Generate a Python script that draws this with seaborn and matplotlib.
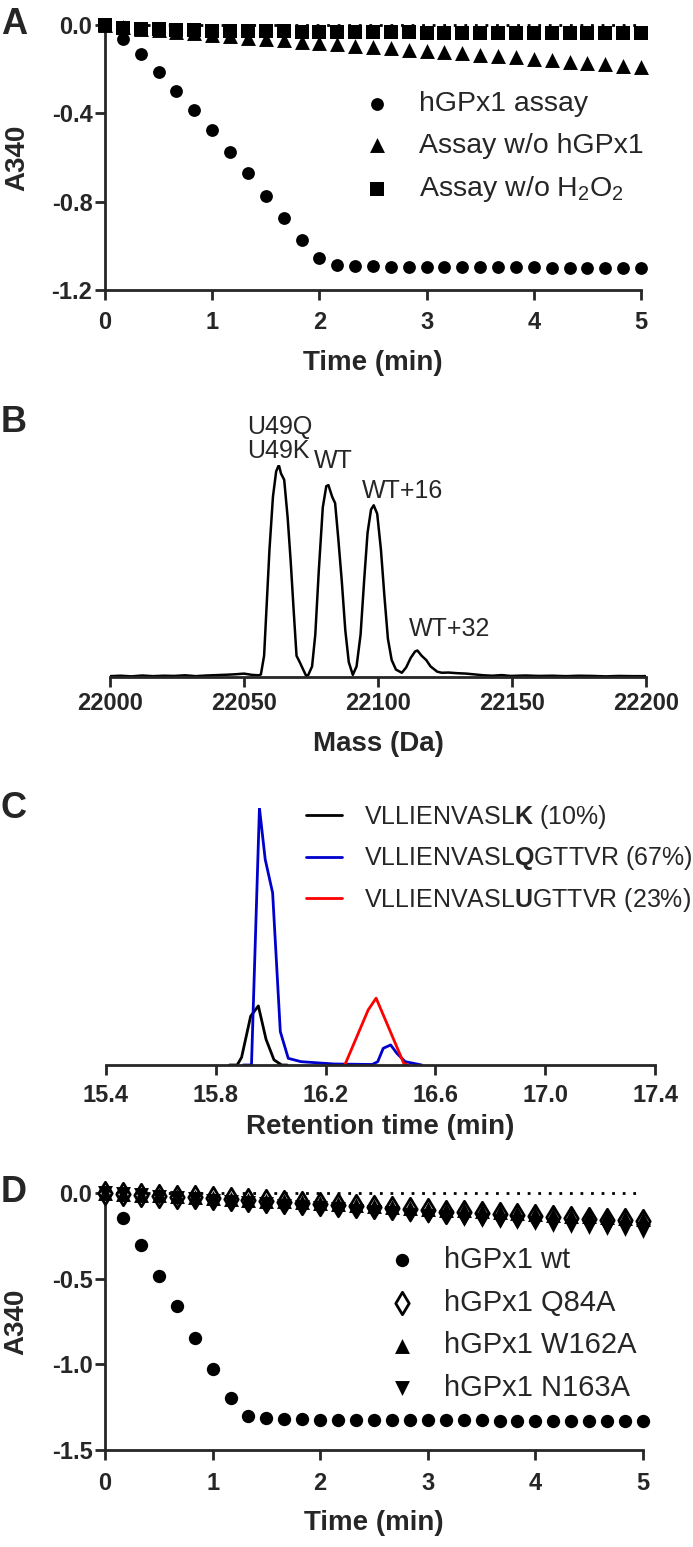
import numpy as np
import matplotlib
matplotlib.use("Agg")
import matplotlib.pyplot as plt
import seaborn as sns
from matplotlib.ticker import StrMethodFormatter

sns.set_style("ticks")
plt.rcParams["font.family"] = ["Liberation Sans", "DejaVu Sans"]
plt.rcParams["mathtext.fontset"] = "custom"
plt.rcParams["mathtext.rm"] = "Liberation Sans"
plt.rcParams["mathtext.bf"] = "Liberation Sans:bold"
plt.rcParams["axes.unicode_minus"] = False

# ---------------- data ----------------
# A: A340 over time (readings every 10 s)
time_a = [0, 1/6, 2/6, 3/6, 4/6, 5/6, 1, 7/6, 8/6, 9/6, 10/6, 11/6, 2, 13/6, 14/6, 15/6,
          16/6, 17/6, 3, 19/6, 20/6, 21/6, 22/6, 23/6, 4, 25/6, 26/6, 27/6, 28/6, 29/6, 5]
assay = [0, -0.062, -0.130, -0.211, -0.298, -0.385, -0.476, -0.574, -0.669, -0.773, -0.873,
         -0.974, -1.057, -1.088, -1.091, -1.093, -1.094, -1.095, -1.096, -1.096, -1.097,
         -1.097, -1.098, -1.098, -1.098, -1.099, -1.099, -1.099, -1.100, -1.100, -1.100]
no_enzyme = [0, -0.008, -0.016, -0.024, -0.031, -0.038, -0.045, -0.051, -0.057, -0.063,
             -0.069, -0.075, -0.081, -0.087, -0.093, -0.099, -0.105, -0.111, -0.117, -0.123,
             -0.129, -0.135, -0.141, -0.147, -0.153, -0.159, -0.166, -0.172, -0.178, -0.184, -0.191]
no_h2o2 = [0, -0.012, -0.016, -0.019, -0.021, -0.023, -0.025, -0.026, -0.027, -0.028, -0.029,
           -0.030, -0.031, -0.031, -0.032, -0.032, -0.033, -0.033, -0.034, -0.034, -0.035,
           -0.035, -0.035, -0.036, -0.036, -0.036, -0.037, -0.037, -0.037, -0.038, -0.038]

# B: deconvoluted mass spectrum
mass = [22000, 22004, 22008, 22012, 22016, 22020, 22024, 22028, 22032, 22036, 22040, 22044,
        22047, 22050, 22053, 22055.5, 22056.3, 22057.5, 22058.3, 22059.5, 22060.8, 22062,
        22063, 22063.8, 22065, 22066.3, 22067.4, 22068.6, 22069.6, 22070.8, 22071.9, 22073.2,
        22074, 22075.4, 22076.6, 22077.9, 22079.4, 22080.7, 22081.5, 22082.9, 22084, 22085.2,
        22086.5, 22087.8, 22089.1, 22090.6, 22092, 22093.5, 22094.8, 22096.1, 22097.4, 22098.4,
        22099.7, 22101.1, 22102.4, 22103.7, 22105.1, 22106.7, 22108.9, 22110.5, 22112.2,
        22113.8, 22114.7, 22116.3, 22118, 22119.6, 22122.1, 22123.8, 22126.3, 22129.6, 22132.9,
        22136.2, 22139.5, 22142.8, 22146.1, 22149.5, 22155, 22160, 22165, 22170, 22175, 22180,
        22185, 22190, 22195, 22200]
intensity = [0.004, 0.006, 0.003, 0.007, 0.004, 0.006, 0.005, 0.008, 0.004, 0.007, 0.009,
             0.011, 0.013, 0.016, 0.010, 0.008, 0.012, 0.10, 0.30, 0.60, 0.85, 0.97, 1.00,
             0.96, 0.93, 0.75, 0.55, 0.30, 0.10, 0.07, 0.04, 0.005, 0.010, 0.05, 0.20, 0.50,
             0.80, 0.90, 0.905, 0.85, 0.82, 0.65, 0.45, 0.22, 0.07, 0.010, 0.05, 0.20, 0.45,
             0.68, 0.79, 0.81, 0.77, 0.60, 0.38, 0.18, 0.08, 0.035, 0.020, 0.045, 0.09, 0.12,
             0.125, 0.10, 0.08, 0.05, 0.025, 0.020, 0.021, 0.018, 0.016, 0.012, 0.008, 0.006,
             0.009, 0.005, 0.007, 0.005, 0.006, 0.004, 0.006, 0.005, 0.003, 0.005, 0.004, 0.004]
peak_labels = ["U49Q\nU49K", "WT", "WT+16", "WT+32"]
peak_label_x = [22051, 22076, 22094, 22111.5]
peak_label_y = [1.01, 0.96, 0.82, 0.17]

# C: extracted ion chromatograms
rt_k = [15.85, 15.878, 15.894, 15.927, 15.955, 15.983, 16.012, 16.04, 16.06]
sig_k = [0, 0, 0.03, 0.19, 0.23, 0.10, 0.02, 0, 0]
rt_q = [15.90, 15.93, 15.959, 15.98, 16.007, 16.035, 16.064, 16.11, 16.23, 16.37, 16.39,
        16.41, 16.437, 16.46, 16.49, 16.55]
sig_q = [0, 0, 1.0, 0.80, 0.67, 0.13, 0.026, 0.013, 0.004, 0.002, 0.013, 0.065, 0.078,
         0.045, 0.013, 0]
rt_u = [16.27, 16.355, 16.384, 16.42, 16.485, 16.50]
sig_u = [0, 0.214, 0.26, 0.17, 0.006, 0]
peptides = ["VLLIENVASL$\\mathbf{K}$ (10%)", "VLLIENVASL$\\mathbf{Q}$GTTVR (67%)",
            "VLLIENVASL$\\mathbf{U}$GTTVR (23%)"]

# D: mutant activity assays
time_d = time_a
wt = [0, -0.144, -0.306, -0.484, -0.660, -0.846, -1.028, -1.195, -1.300, -1.313, -1.318,
      -1.320, -1.322, -1.323, -1.324, -1.325, -1.325, -1.326, -1.326, -1.327, -1.327, -1.327,
      -1.328, -1.328, -1.328, -1.329, -1.329, -1.329, -1.330, -1.330, -1.330]
q84a = [0, -0.005, -0.010, -0.016, -0.021, -0.026, -0.032, -0.037, -0.043, -0.048, -0.054,
        -0.060, -0.066, -0.072, -0.078, -0.084, -0.090, -0.096, -0.102, -0.108, -0.113,
        -0.119, -0.124, -0.130, -0.136, -0.141, -0.146, -0.151, -0.156, -0.160, -0.164]
w162a = [0, -0.004, -0.009, -0.014, -0.019, -0.024, -0.029, -0.034, -0.039, -0.044, -0.049,
         -0.054, -0.059, -0.065, -0.070, -0.075, -0.081, -0.086, -0.092, -0.097, -0.102,
         -0.107, -0.112, -0.117, -0.122, -0.127, -0.132, -0.137, -0.141, -0.145, -0.149]
n163a = [0, -0.007, -0.014, -0.021, -0.029, -0.036, -0.044, -0.051, -0.059, -0.066, -0.074,
         -0.081, -0.089, -0.096, -0.104, -0.111, -0.119, -0.126, -0.134, -0.141, -0.149,
         -0.156, -0.163, -0.170, -0.177, -0.184, -0.191, -0.198, -0.205, -0.212, -0.220]

# ---------------- figure ----------------
W, H = 693, 1547
fig = plt.figure(figsize=(W / 100, H / 100), dpi=100)


def px_rect(left, right, top, bottom):
    return [left / W, 1 - bottom / H, (right - left) / W, (bottom - top) / H]


TICK_FS = 17
LABEL_FS = 20


def style_axis(ax, show_y=True, xpad=8):
    for s in ["top", "right"]:
        ax.spines[s].set_visible(False)
    for s in ["left", "bottom"]:
        ax.spines[s].set_linewidth(2)
    ax.tick_params(axis="x", length=7, width=2, pad=xpad, labelsize=TICK_FS)
    ax.tick_params(axis="y", length=7, width=2, pad=2, labelsize=TICK_FS)
    for lab in ax.get_xticklabels() + ax.get_yticklabels():
        lab.set_fontweight("bold")
    if not show_y:
        ax.spines["left"].set_visible(False)
        ax.set_yticks([])


def panel_letter(letter, y_px):
    fig.text(1 / W, 1 - y_px / H, letter, fontsize=26, fontweight="bold",
             ha="left", va="center")


# ---- A ----
axA = fig.add_axes(px_rect(105, 641, 25, 290))
axA.axhline(0, color="black", lw=2, ls=(0, (1, 2.8)), clip_on=False, zorder=1)
sns.scatterplot(x=time_a, y=assay, marker="o", s=85, color="black", linewidth=0,
                label="hGPx1 assay", ax=axA, clip_on=False, zorder=3)
sns.scatterplot(x=time_a, y=no_enzyme, marker="^", s=115, color="black", linewidth=0,
                label="Assay w/o hGPx1", ax=axA, clip_on=False, zorder=3)
sns.scatterplot(x=time_a, y=no_h2o2, marker="s", s=90, color="black", linewidth=0,
                label="Assay w/o $\\mathregular{H_2O_2}$", ax=axA, clip_on=False, zorder=3)
axA.set_xlim(0, 5)
axA.set_ylim(-1.2, 0)
axA.set_xticks([0, 1, 2, 3, 4, 5])
axA.set_yticks([0, -0.4, -0.8, -1.2])
axA.yaxis.set_major_formatter(StrMethodFormatter("{x:.1f}"))
style_axis(axA)
axA.set_xlabel("Time (min)", fontsize=LABEL_FS, fontweight="bold")
axA.set_ylabel("A340", fontsize=LABEL_FS, fontweight="bold")
axA.xaxis.set_label_coords(0.5, -0.225)
axA.yaxis.set_label_coords(-0.14, 0.5)
axA.legend(frameon=False, loc="upper left", bbox_to_anchor=(363 / W, 1 - 91 / H),
           bbox_transform=fig.transFigure, fontsize=20.5, handlelength=1.0,
           handletextpad=0.95, labelspacing=0.55, borderpad=0, borderaxespad=0)
panel_letter("A", 25)

# ---- B ----
axB = fig.add_axes(px_rect(110, 646, 465, 677))
sns.lineplot(x=mass, y=intensity, color="black", linewidth=1.8, ax=axB, legend=False)
axB.set_xlim(22000, 22200)
axB.set_ylim(0, 1)
axB.set_xticks([22000, 22050, 22100, 22150, 22200])
axB.xaxis.set_major_formatter(StrMethodFormatter("{x:.0f}"))
style_axis(axB, show_y=False, xpad=4)
axB.set_xlabel("Mass (Da)", fontsize=LABEL_FS, fontweight="bold")
axB.set_ylabel("")
axB.xaxis.set_label_coords(0.5, -0.255)
for lab, lx, ly in zip(peak_labels, peak_label_x, peak_label_y):
    axB.text(lx, ly, lab, fontsize=18, ha="left", va="bottom", linespacing=1.0)
panel_letter("B", 423)

# ---- C ----
axC = fig.add_axes(px_rect(106, 655, 808, 1065))
sns.lineplot(x=rt_k, y=sig_k, color="black", linewidth=2, label=peptides[0], ax=axC)
sns.lineplot(x=rt_q, y=sig_q, color="#0000cc", linewidth=2, label=peptides[1], ax=axC)
sns.lineplot(x=rt_u, y=sig_u, color="#ff0000", linewidth=2, label=peptides[2], ax=axC)
axC.set_xlim(15.4, 17.4)
axC.set_ylim(0, 1)
axC.set_xticks([15.4, 15.8, 16.2, 16.6, 17.0, 17.4])
axC.xaxis.set_major_formatter(StrMethodFormatter("{x:.1f}"))
style_axis(axC, show_y=False, xpad=7)
axC.set_xlabel("Retention time (min)", fontsize=LABEL_FS, fontweight="bold")
axC.set_ylabel("")
axC.xaxis.set_label_coords(0.5, -0.19)
axC.legend(frameon=False, loc="upper left", bbox_to_anchor=(306 / W, 1 - 803 / H),
           bbox_transform=fig.transFigure, fontsize=18, handlelength=1.45,
           handletextpad=0.85, labelspacing=0.53, borderpad=0, borderaxespad=0)
panel_letter("C", 808)

# ---- D ----
axD = fig.add_axes(px_rect(105, 643, 1193, 1450))
axD.axhline(0, color="black", lw=2, ls=(0, (1, 2.8)), clip_on=False, zorder=1)
sns.scatterplot(x=time_d, y=wt, marker="o", s=92, color="black", linewidth=0,
                label="hGPx1 wt", ax=axD, clip_on=False, zorder=3)
sns.scatterplot(x=time_d, y=q84a, marker="d", s=130, color="white", edgecolor="black",
                linewidth=2, label="hGPx1 Q84A", ax=axD, clip_on=False, zorder=3)
sns.scatterplot(x=time_d, y=w162a, marker="^", s=115, color="black", linewidth=0,
                label="hGPx1 W162A", ax=axD, clip_on=False, zorder=4)
sns.scatterplot(x=time_d, y=n163a, marker="v", s=115, color="black", linewidth=0,
                label="hGPx1 N163A", ax=axD, clip_on=False, zorder=4)
axD.set_xlim(0, 5)
axD.set_ylim(-1.5, 0)
axD.set_xticks([0, 1, 2, 3, 4, 5])
axD.set_yticks([0, -0.5, -1.0, -1.5])
axD.yaxis.set_major_formatter(StrMethodFormatter("{x:.1f}"))
style_axis(axD, xpad=9)
axD.set_xlabel("Time (min)", fontsize=LABEL_FS, fontweight="bold")
axD.set_ylabel("A340", fontsize=LABEL_FS, fontweight="bold")
axD.xaxis.set_label_coords(0.5, -0.235)
axD.yaxis.set_label_coords(-0.14, 0.5)
axD.legend(frameon=False, loc="upper left", bbox_to_anchor=(387 / W, 1 - 1246 / H),
           bbox_transform=fig.transFigure, fontsize=21, handlelength=1.0,
           handletextpad=0.95, labelspacing=0.5, borderpad=0, borderaxespad=0)
panel_letter("D", 1192)

fig.savefig("out.png", dpi=100)
